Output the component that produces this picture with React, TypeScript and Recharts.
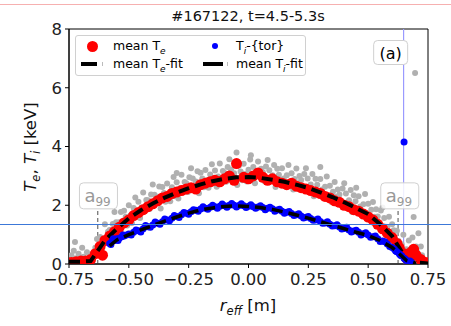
import {
  ComposedChart,
  XAxis,
  YAxis,
  Scatter,
  ReferenceLine,
  ReferenceDot,
  ReferenceArea,
} from 'recharts'

const xTicks = [-0.75, -0.5, -0.25, 0, 0.25, 0.5, 0.75]
const yTicks = [0, 2, 4, 6, 8]

// raw Te measurements (r_eff, keV)
const teRaw: [number, number][] = [
  [-0.745, 0.05], [-0.74, 0.3], [-0.735, 0.12], [-0.73, 0.45], [-0.725, 0.75], [-0.72, 0.2],
  [-0.71, 0.35], [-0.7, 0.1], [-0.695, 0.55], [-0.69, 0.25], [-0.68, 0.15], [-0.675, 0.4],
  [-0.67, 0.05], [-0.66, 0.3], [-0.655, 0.2],
  [-0.64, 0.55], [-0.633, 0.85], [-0.627, 0.3], [-0.62, 0.92], [-0.613, 0.4], [-0.607, 0.72],
  [-0.6, 1.35], [-0.593, 0.85], [-0.587, 1.1], [-0.58, 1.16], [-0.573, 0.86], [-0.567, 1.36],
  [-0.56, 1.77], [-0.553, 1.42], [-0.547, 1.12], [-0.54, 1.42], [-0.533, 1.77], [-0.527, 1.02],
  [-0.52, 1.81], [-0.513, 1.61], [-0.507, 1.31], [-0.5, 2.0], [-0.493, 1.65], [-0.487, 1.4],
  [-0.48, 1.91], [-0.473, 2.26], [-0.467, 1.61], [-0.46, 2.12], [-0.453, 1.57], [-0.447, 1.92],
  [-0.44, 2.43], [-0.433, 1.93], [-0.427, 2.18], [-0.42, 2.17], [-0.413, 1.87], [-0.407, 2.37],
  [-0.4, 2.71], [-0.393, 2.36], [-0.387, 2.06], [-0.38, 2.29], [-0.373, 2.64], [-0.367, 1.89],
  [-0.36, 2.62], [-0.353, 2.42], [-0.347, 2.12], [-0.34, 2.74], [-0.333, 2.39], [-0.327, 2.14],
  [-0.32, 2.61], [-0.313, 2.96], [-0.307, 2.31], [-0.3, 2.78], [-0.293, 2.23], [-0.287, 2.58],
  [-0.28, 3.04], [-0.273, 2.54], [-0.267, 2.79], [-0.26, 2.75], [-0.253, 2.45], [-0.247, 2.95],
  [-0.24, 3.26], [-0.233, 2.91], [-0.227, 2.61], [-0.22, 2.81], [-0.213, 3.16], [-0.207, 2.41],
  [-0.2, 3.11], [-0.193, 2.91], [-0.187, 2.61], [-0.18, 3.2], [-0.173, 2.85], [-0.167, 2.6],
  [-0.16, 3.05], [-0.153, 3.4], [-0.147, 2.75], [-0.14, 3.18], [-0.133, 2.63], [-0.127, 2.98],
  [-0.12, 3.42], [-0.113, 2.92], [-0.107, 3.17], [-0.1, 3.1], [-0.093, 2.8], [-0.087, 3.3],
  [-0.08, 3.57], [-0.073, 3.22], [-0.067, 2.92], [-0.06, 3.09], [-0.053, 3.44], [-0.047, 2.69],
  [-0.04, 3.35], [-0.033, 3.15], [-0.027, 2.85], [-0.02, 3.41], [-0.013, 3.06], [-0.007, 2.81],
  [0.0, 3.21], [0.007, 3.56], [0.013, 2.91], [0.02, 3.3], [0.027, 2.75], [0.033, 3.1],
  [0.04, 3.49], [0.047, 2.99], [0.053, 3.24], [0.06, 3.12], [0.067, 2.82], [0.073, 3.32],
  [0.08, 3.54], [0.087, 3.19], [0.093, 2.89], [0.1, 3.02], [0.107, 3.37], [0.113, 2.62],
  [0.12, 3.24], [0.127, 3.04], [0.133, 2.74], [0.14, 3.26], [0.147, 2.91], [0.153, 2.66],
  [0.16, 3.02], [0.167, 3.37], [0.173, 2.72], [0.18, 3.09], [0.187, 2.54], [0.193, 2.89],
  [0.2, 3.25], [0.207, 2.75], [0.213, 3.0], [0.22, 2.86], [0.227, 2.56], [0.233, 3.06],
  [0.24, 3.26], [0.247, 2.91], [0.253, 2.61], [0.26, 2.71], [0.267, 3.06], [0.273, 2.31],
  [0.28, 2.9], [0.287, 2.7], [0.293, 2.4], [0.3, 2.89], [0.307, 2.54], [0.313, 2.29],
  [0.32, 2.63], [0.327, 2.98], [0.333, 2.33], [0.34, 2.66], [0.347, 2.11], [0.353, 2.46],
  [0.36, 2.79], [0.367, 2.29], [0.373, 2.54], [0.38, 2.37], [0.387, 2.07], [0.393, 2.57],
  [0.4, 2.75], [0.407, 2.4], [0.413, 2.1], [0.42, 2.17], [0.427, 2.52], [0.433, 1.77],
  [0.44, 2.34], [0.447, 2.14], [0.453, 1.84], [0.46, 2.31], [0.467, 1.96], [0.473, 1.71],
  [0.48, 2.03], [0.487, 2.38], [0.493, 1.73], [0.5, 2.05], [0.507, 1.5], [0.513, 1.85],
  [0.52, 2.11], [0.527, 1.61], [0.533, 1.86], [0.54, 1.62], [0.547, 1.32], [0.553, 1.82],
  [0.56, 1.92], [0.567, 1.57], [0.573, 1.27], [0.58, 1.26], [0.587, 1.61], [0.593, 0.86],
  [0.6, 1.35], [0.607, 1.15], [0.613, 0.85], [0.62, 1.13], [0.627, 0.78], [0.633, 0.53],
  [0.64, 0.67], [0.647, 1.0], [0.653, 0.37],
  [0.66, 0.5], [0.665, 0.25], [0.67, 0.8], [0.68, 0.35], [0.685, 0.9], [0.69, 1.6],
  [0.695, 0.2], [0.7, 0.6], [0.705, 0.4], [0.71, 1.05], [0.715, 0.15], [0.72, 0.6],
  [0.725, 0.3], [0.73, 0.1], [0.74, 0.05], [0.696, 6.5],
  [-0.05, 3.8], [0.01, 3.7], [-0.3, 3.1], [0.3, 3.3], [0.45, 2.6],
]

// mean Te
const teMean: [number, number][] = [
  [-0.74, 0.05], [-0.72, 0.08], [-0.7, 0.1], [-0.68, 0.1], [-0.66, 0.15], [-0.64, 0.35],
  [-0.62, 0.6], [-0.61, 0.3], [-0.6, 0.8], [-0.58, 0.95], [-0.56, 1.1], [-0.54, 1.25],
  [-0.52, 1.4], [-0.5, 1.5], [-0.48, 1.65], [-0.46, 1.75], [-0.44, 1.85], [-0.42, 1.95],
  [-0.4, 2.05], [-0.38, 2.15], [-0.36, 2.25], [-0.34, 2.3], [-0.32, 2.4], [-0.3, 2.45],
  [-0.28, 2.5], [-0.26, 2.55], [-0.24, 2.6], [-0.22, 2.55], [-0.2, 2.7], [-0.18, 2.75],
  [-0.16, 2.8], [-0.14, 2.85], [-0.12, 2.8], [-0.1, 2.9], [-0.08, 3.0], [-0.06, 2.85],
  [-0.05, 3.42], [-0.02, 2.95], [0.0, 2.9], [0.02, 3.0], [0.04, 3.1], [0.06, 2.95],
  [0.08, 2.85], [0.1, 2.9], [0.12, 2.8], [0.14, 2.75], [0.16, 2.7], [0.18, 2.75],
  [0.2, 2.65], [0.22, 2.6], [0.24, 2.55], [0.26, 2.5], [0.28, 2.45], [0.3, 2.4],
  [0.32, 2.3], [0.34, 2.25], [0.36, 2.15], [0.38, 2.1], [0.4, 2.0], [0.42, 1.95],
  [0.44, 1.85], [0.46, 1.8], [0.48, 1.7], [0.5, 1.6], [0.52, 1.5], [0.54, 1.35],
  [0.56, 1.2], [0.58, 1.05], [0.6, 0.9], [0.62, 0.7], [0.63, 0.55], [0.65, 0.35],
  [0.66, 0.2], [0.68, 0.4], [0.69, 0.5], [0.7, 0.3], [0.72, 0.15], [0.74, 0.05],
]

// Ti (toroidal)
const tiTor: [number, number][] = [
  [-0.58, 0.7], [-0.57, 0.78], [-0.56, 0.8], [-0.55, 0.86], [-0.54, 0.88], [-0.53, 0.93],
  [-0.52, 0.95], [-0.51, 0.99], [-0.5, 1.02], [-0.48, 1.08], [-0.46, 1.13], [-0.44, 1.2],
  [-0.42, 1.27], [-0.4, 1.33], [-0.38, 1.39], [-0.36, 1.44], [-0.34, 1.5], [-0.32, 1.56],
  [-0.3, 1.62], [-0.28, 1.68], [-0.26, 1.73], [-0.24, 1.78], [-0.22, 1.83], [-0.2, 1.87],
  [-0.18, 1.9], [-0.16, 1.93], [-0.14, 1.95], [-0.12, 1.97], [-0.1, 1.98], [-0.08, 2.0],
  [-0.06, 2.0], [-0.04, 1.99], [-0.02, 1.98], [0.0, 1.97], [0.02, 1.95], [0.04, 1.94],
  [0.06, 1.92], [0.08, 1.9], [0.1, 1.88], [0.12, 1.84], [0.14, 1.8], [0.16, 1.76],
  [0.18, 1.72], [0.2, 1.68], [0.22, 1.63], [0.24, 1.59], [0.26, 1.55], [0.28, 1.5],
  [0.3, 1.45], [0.32, 1.4], [0.34, 1.35], [0.36, 1.3], [0.38, 1.26], [0.4, 1.21],
  [0.42, 1.16], [0.44, 1.12], [0.46, 1.08], [0.48, 1.03], [0.5, 0.99], [0.52, 0.93],
  [0.54, 0.86], [0.56, 0.78], [0.58, 0.68], [0.6, 0.56], [0.61, 0.5], [0.62, 0.42],
  [0.63, 0.35], [0.64, 0.28], [0.65, 0.2], [0.66, 0.12], [0.67, 0.08], [0.68, 0.05],
  [-0.575, 0.66], [-0.565, 0.86], [-0.545, 0.8], [-0.525, 0.99], [-0.49, 0.99], [-0.47, 1.16],
  [-0.45, 1.09], [-0.43, 1.31], [-0.41, 1.25], [-0.39, 1.43], [-0.37, 1.35], [-0.35, 1.53],
  [-0.33, 1.47], [-0.31, 1.65], [-0.29, 1.58], [-0.27, 1.75], [-0.25, 1.69], [-0.23, 1.85],
  [-0.21, 1.8], [-0.19, 1.95], [-0.17, 1.86], [-0.15, 2.0], [-0.13, 1.9], [-0.11, 2.04],
  [-0.09, 1.93], [-0.07, 2.06], [-0.05, 1.94], [-0.03, 2.05], [-0.01, 1.92], [0.01, 2.02],
  [0.03, 1.9], [0.05, 1.98], [0.07, 1.85], [0.09, 1.93], [0.11, 1.8], [0.13, 1.86],
  [0.15, 1.73], [0.17, 1.79], [0.19, 1.65], [0.21, 1.71], [0.23, 1.57], [0.25, 1.62],
  [0.27, 1.49], [0.29, 1.53], [0.31, 1.39], [0.33, 1.44], [0.35, 1.29], [0.37, 1.34],
  [0.39, 1.19], [0.41, 1.25], [0.43, 1.09], [0.45, 1.15], [0.47, 0.99], [0.49, 1.06],
  [0.51, 0.91], [0.53, 0.95], [0.55, 0.77], [0.57, 0.76], [0.59, 0.6], [0.615, 0.44],
  [0.635, 0.3], [0.655, 0.16], [0.675, 0.1],
  [0.65, 4.15],
]

const teFit: [number, number][] = [
  [-0.75, 0.08], [-0.7, 0.08], [-0.66, 0.1], [-0.63, 0.45], [-0.6, 0.8], [-0.55, 1.2],
  [-0.5, 1.55], [-0.45, 1.83], [-0.4, 2.06], [-0.35, 2.26], [-0.3, 2.43], [-0.25, 2.58],
  [-0.2, 2.71], [-0.15, 2.82], [-0.1, 2.9], [-0.05, 2.95], [0.0, 2.96], [0.05, 2.93],
  [0.1, 2.87], [0.15, 2.8], [0.2, 2.7], [0.25, 2.59], [0.3, 2.44], [0.35, 2.28],
  [0.4, 2.1], [0.45, 1.9], [0.5, 1.7], [0.55, 1.35], [0.6, 0.95], [0.63, 0.55],
  [0.66, 0.15], [0.7, 0.05], [0.75, 0.02],
]

const tiFit: [number, number][] = [
  [-0.58, 0.62], [-0.55, 0.82], [-0.5, 1.0], [-0.45, 1.16], [-0.4, 1.31], [-0.35, 1.46],
  [-0.3, 1.6], [-0.25, 1.73], [-0.2, 1.84], [-0.15, 1.91], [-0.1, 1.96], [-0.05, 1.98],
  [0.0, 1.96], [0.05, 1.92], [0.1, 1.86], [0.15, 1.77], [0.2, 1.67], [0.25, 1.56],
  [0.3, 1.44], [0.35, 1.32], [0.4, 1.2], [0.45, 1.08], [0.5, 0.97], [0.55, 0.8],
  [0.6, 0.56], [0.63, 0.35], [0.66, 0.12], [0.7, 0.03],
]

const a99Left = -0.63
const a99Right = 0.625
const chordLine = 0.648

const toPts = (arr: [number, number][]) => arr.map(([r, t]) => ({ r, t }))

const FONT = 'DejaVu Sans'

const dot = (r: number, fill: string) => (p: any) => (
  <circle cx={p.cx} cy={p.cy} r={r} fill={fill} />
)
const noDot = () => <g />

const fmt = (v: number) => (v < 0 ? '\u2212' + Math.abs(v).toFixed(2) : v.toFixed(2))

function A99Box(p: any) {
  return (
    <g>
      <rect x={p.cx - 19} y={p.cy - 13} width={38} height={26} rx={4}
        fill="#fff" fillOpacity={0.85} stroke="#d0d0d0" />
      <text x={p.cx - 14} y={p.cy + 6} fill="#999" fontFamily={FONT} fontSize={18}>
        a<tspan fontSize={12} dy={4}>99</tspan>
      </text>
    </g>
  )
}

function PanelTag(p: any) {
  return (
    <g>
      <rect x={p.cx - 17} y={p.cy - 12} width={34} height={24} rx={4}
        fill="#fff" stroke="#d0d0d0" />
      <text x={p.cx} y={p.cy + 6} textAnchor="middle" fill="#000" fontFamily={FONT} fontSize={16}>
        (a)
      </text>
    </g>
  )
}

function LegendBox() {
  const txt = { position: 'absolute' as const, fontSize: 12.5, fontFamily: FONT, whiteSpace: 'nowrap' as const }
  const sub = { fontSize: 9, fontStyle: 'italic' as const }
  return (
    <div style={{
      position: 'absolute', left: 75, top: 35, width: 229, height: 39,
      border: '1px solid #d0d0d0', borderRadius: 3, background: 'rgba(255,255,255,0.85)',
    }}>
      <div style={{ position: 'absolute', left: 11, top: 5, width: 11, height: 11, borderRadius: 6, background: '#f00' }} />
      <div style={{ ...txt, left: 37, top: 2 }}>mean T<sub style={sub}>e</sub></div>
      <div style={{ position: 'absolute', left: 136, top: 7, width: 6, height: 6, borderRadius: 3, background: '#00f' }} />
      <div style={{ ...txt, left: 160, top: 2 }}>T<sub style={sub}>i</sub>-{'{tor}'}</div>
      <div style={{ position: 'absolute', left: 5, top: 26, width: 16, height: 4, background: '#000' }} />
      <div style={{ position: 'absolute', left: 26, top: 26, width: 1, height: 4, background: '#bbb' }} />
      <div style={{ ...txt, left: 37, top: 20 }}>mean T<sub style={sub}>e</sub>-fit</div>
      <div style={{ position: 'absolute', left: 127, top: 26, width: 20, height: 4, background: '#000' }} />
      <div style={{ position: 'absolute', left: 151, top: 26, width: 1, height: 4, background: '#bbb' }} />
      <div style={{ ...txt, left: 160, top: 20 }}>mean T<sub style={sub}>i</sub>-fit</div>
    </div>
  )
}

export default function App() {
  const tick = { fontFamily: FONT, fontSize: 16.5, fill: '#222' }
  return (
    <div style={{ position: 'absolute', left: 0, top: 0, width: 451, height: 326, background: '#fff' }}>
      <ComposedChart width={451} height={326} margin={{ top: 29, right: 23, bottom: 22, left: 29 }}>
        <XAxis type="number" dataKey="r" domain={[-0.75, 0.75]} ticks={xTicks}
          allowDataOverflow tickFormatter={fmt} tick={tick} tickSize={4} tickMargin={5}
          stroke="#000" height={40} interval={0} />
        <YAxis type="number" dataKey="t" domain={[0, 8]} ticks={yTicks}
          allowDataOverflow tick={tick} tickSize={4} tickMargin={3} stroke="#000" width={40} />
        <ReferenceLine x={chordLine} stroke="#9a9aff" strokeWidth={1.2} />
        <Scatter data={toPts(teRaw)} shape={dot(3, '#b0b0b0')} isAnimationActive={false} />
        <Scatter data={toPts(teMean)} shape={dot(5.5, '#ff0000')} isAnimationActive={false} />
        <Scatter data={toPts(teFit)} shape={noDot} isAnimationActive={false}
          line={{ stroke: '#000', strokeWidth: 4, strokeDasharray: '11 6', fill: 'none' }} />
        <Scatter data={toPts(tiTor)} shape={dot(3.5, '#0000ff')} isAnimationActive={false} />
        <Scatter data={toPts(tiFit)} shape={noDot} isAnimationActive={false}
          line={{ stroke: '#000', strokeWidth: 3.5, strokeDasharray: '11 6', fill: 'none' }} />
        <ReferenceLine segment={[{ x: a99Left, y: 0 }, { x: a99Left, y: 1.85 }]}
          stroke="#777" strokeDasharray="4 3" strokeWidth={1.3} />
        <ReferenceLine segment={[{ x: a99Right, y: 0 }, { x: a99Right, y: 1.85 }]}
          stroke="#777" strokeDasharray="4 3" strokeWidth={1.3} />
        <ReferenceDot x={-0.627} y={2.32} shape={A99Box} />
        <ReferenceDot x={0.632} y={2.32} shape={A99Box} />
        <ReferenceDot x={0.594} y={7.2} shape={PanelTag} />
        <ReferenceArea x1={-0.75} x2={0.75} y1={0} y2={8} fill="none" stroke="#000" strokeWidth={1} />
        <text x={248} y={21} textAnchor="middle" fontFamily={FONT} fontSize={14.5} fill="#111">
          #167122, t=4.5-5.3s
        </text>
        <text x={248} y={311} textAnchor="middle" fontFamily={FONT} fontSize={16.5} fill="#111">
          <tspan fontStyle="italic">r</tspan>
          <tspan fontStyle="italic" fontSize={11.5} dy={4}>eff</tspan>
          <tspan dy={-4}> [m]</tspan>
        </text>
        <text x={36} y={147} textAnchor="middle" transform="rotate(-90 36 147)"
          fontFamily={FONT} fontSize={16.5} fill="#111">
          <tspan fontStyle="italic">T</tspan>
          <tspan fontStyle="italic" fontSize={11.5} dy={4}>e</tspan>
          <tspan dy={-4}>, </tspan>
          <tspan fontStyle="italic">T</tspan>
          <tspan fontStyle="italic" fontSize={11.5} dy={4}>i</tspan>
          <tspan dy={-4}> [keV]</tspan>
        </text>
      </ComposedChart>
      <LegendBox />
      <div style={{ position: 'absolute', left: 0, top: 4, width: 451, height: 1, background: '#f6b0b0' }} />
      <div style={{ position: 'absolute', left: 0, top: 224, width: 451, height: 1, background: '#3c78d8' }} />
    </div>
  )
}
